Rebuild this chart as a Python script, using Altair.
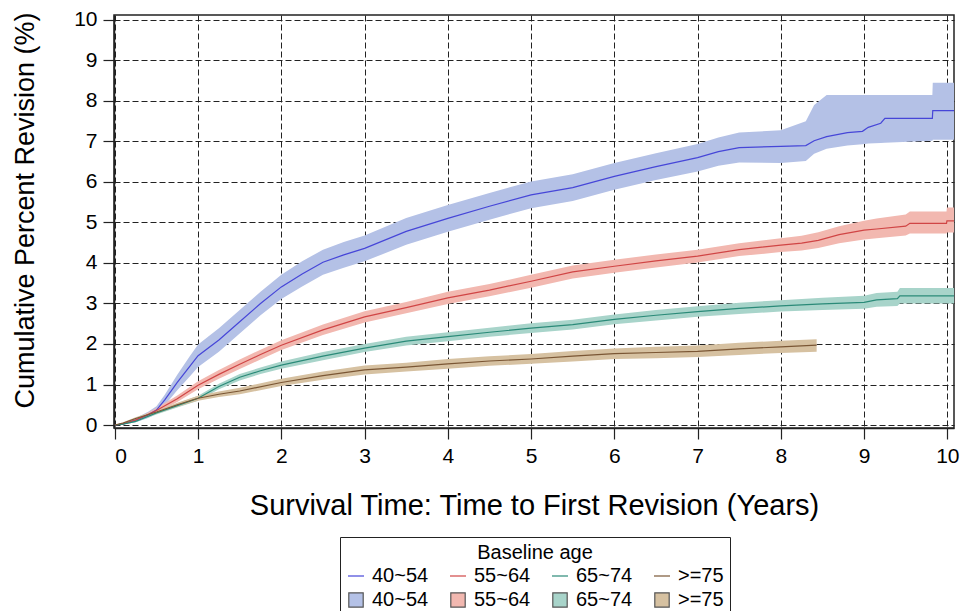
import altair as alt
import pandas as pd

GROUPS = ["40~54", "55~64", "65~74", ">=75"]
LINE_COLORS = ["#4646d8", "#d04545", "#2a8a78", "#7a5634"]
BAND_COLORS = ["#b4c1e6", "#f2b8b0", "#a8d4ca", "#d6c1a1"]

# Cumulative revision (%) with 95% confidence limits, by baseline age group
t_a = [0, 0.1, 0.25, 0.4, 0.5, 0.6, 0.75, 0.9, 1.0, 1.25, 1.5, 1.75, 2.0, 2.25, 2.5, 2.75,
       3.0, 3.5, 4.0, 4.5, 5.0, 5.5, 6.0, 6.5, 7.0, 7.25, 7.5, 8.0, 8.3, 8.4, 8.55, 8.8,
       8.98, 9.05, 9.2, 9.25, 9.82, 9.825, 10.08]
est_a = [0, 0.03, 0.12, 0.25, 0.37, 0.62, 1.05, 1.45, 1.71, 2.10, 2.55, 3.00, 3.41, 3.73, 4.02, 4.20,
         4.36, 4.78, 5.10, 5.40, 5.68, 5.86, 6.14, 6.38, 6.60, 6.75, 6.85, 6.88, 6.90, 7.02, 7.12, 7.22,
         7.25, 7.35, 7.45, 7.57, 7.57, 7.76, 7.76]
lo_a = [0, 0.01, 0.07, 0.17, 0.28, 0.49, 0.86, 1.20, 1.43, 1.81, 2.26, 2.71, 3.11, 3.42, 3.71, 3.88,
        4.04, 4.45, 4.77, 5.07, 5.35, 5.53, 5.81, 6.05, 6.26, 6.40, 6.48, 6.47, 6.52, 6.70, 6.82, 6.90,
        6.93, 6.95, 6.96, 6.97, 7.02, 7.04, 7.04]
hi_a = [0, 0.05, 0.17, 0.33, 0.46, 0.75, 1.24, 1.70, 1.99, 2.39, 2.84, 3.29, 3.71, 4.04, 4.33, 4.52,
        4.68, 5.11, 5.43, 5.73, 6.01, 6.19, 6.47, 6.71, 6.94, 7.10, 7.22, 7.28, 7.50, 7.90, 8.15, 8.15,
        8.15, 8.15, 8.15, 8.15, 8.15, 8.45, 8.45]

t_b = [0, 0.1, 0.25, 0.4, 0.5, 0.75, 1.0, 1.25, 1.5, 1.75, 2.0, 2.5, 3.0, 3.5, 4.0, 4.5, 5.0,
       5.5, 6.0, 6.5, 7.0, 7.5, 8.0, 8.25, 8.45, 8.7, 9.0, 9.15, 9.5, 9.55, 9.99, 9.995, 10.08]
est_b = [0, 0.03, 0.12, 0.26, 0.36, 0.65, 0.98, 1.25, 1.50, 1.74, 1.97, 2.35, 2.67, 2.90, 3.14, 3.33, 3.55,
         3.78, 3.92, 4.05, 4.17, 4.33, 4.44, 4.49, 4.56, 4.70, 4.81, 4.84, 4.91, 4.98, 4.98, 5.04, 5.04]
lo_b = [0, 0.02, 0.09, 0.21, 0.30, 0.57, 0.88, 1.14, 1.38, 1.62, 1.85, 2.22, 2.53, 2.76, 2.99, 3.18, 3.39,
        3.62, 3.76, 3.89, 4.01, 4.17, 4.27, 4.31, 4.37, 4.49, 4.58, 4.61, 4.68, 4.73, 4.73, 4.75, 4.75]
hi_b = [0, 0.04, 0.15, 0.31, 0.42, 0.73, 1.08, 1.36, 1.62, 1.86, 2.09, 2.48, 2.81, 3.04, 3.29, 3.48, 3.71,
        3.94, 4.08, 4.21, 4.33, 4.49, 4.61, 4.67, 4.76, 4.91, 5.04, 5.10, 5.20, 5.27, 5.27, 5.37, 5.37]

t_c = [0, 0.1, 0.25, 0.5, 0.75, 1.0, 1.25, 1.5, 1.75, 2.0, 2.5, 3.0, 3.5, 4.0, 4.5, 5.0, 5.5,
       6.0, 6.5, 7.0, 7.5, 8.0, 8.5, 9.0, 9.15, 9.4, 9.43, 10.08]
est_c = [0, 0.02, 0.09, 0.30, 0.48, 0.66, 0.95, 1.18, 1.34, 1.48, 1.70, 1.90, 2.07, 2.18, 2.29, 2.39, 2.48,
         2.61, 2.71, 2.80, 2.88, 2.94, 2.99, 3.03, 3.09, 3.12, 3.19, 3.19]
lo_c = [0, 0.01, 0.07, 0.26, 0.43, 0.60, 0.88, 1.10, 1.26, 1.39, 1.60, 1.80, 1.96, 2.07, 2.18, 2.27, 2.36,
        2.49, 2.58, 2.67, 2.74, 2.80, 2.84, 2.87, 2.92, 2.94, 3.00, 3.00]
hi_c = [0, 0.03, 0.11, 0.34, 0.53, 0.72, 1.02, 1.26, 1.42, 1.57, 1.80, 2.00, 2.18, 2.29, 2.40, 2.51, 2.60,
        2.73, 2.84, 2.93, 3.02, 3.08, 3.14, 3.19, 3.26, 3.29, 3.38, 3.38]

t_d = [0, 0.1, 0.25, 0.5, 0.75, 1.0, 1.25, 1.5, 2.0, 2.5, 3.0, 3.5, 4.0, 4.5, 5.0, 5.5, 6.0,
       6.5, 7.0, 7.5, 8.0, 8.43]
est_d = [0, 0.05, 0.16, 0.32, 0.50, 0.66, 0.76, 0.84, 1.05, 1.22, 1.36, 1.43, 1.51, 1.58, 1.63, 1.70, 1.76,
         1.79, 1.82, 1.88, 1.93, 1.97]
lo_d = [0, 0.03, 0.13, 0.28, 0.45, 0.60, 0.69, 0.76, 0.96, 1.12, 1.25, 1.32, 1.39, 1.46, 1.51, 1.57, 1.63,
        1.65, 1.68, 1.73, 1.78, 1.81]
hi_d = [0, 0.07, 0.19, 0.36, 0.55, 0.72, 0.83, 0.92, 1.14, 1.32, 1.47, 1.54, 1.63, 1.70, 1.75, 1.83, 1.89,
        1.93, 1.96, 2.03, 2.08, 2.12]

series = [(t_a, est_a, lo_a, hi_a), (t_b, est_b, lo_b, hi_b),
          (t_c, est_c, lo_c, hi_c), (t_d, est_d, lo_d, hi_d)]

frames = []
for g, lc, bc, (t, e, lo, hi) in zip(GROUPS, LINE_COLORS, BAND_COLORS, series):
    frames.append(pd.DataFrame({"group": g, "line_color": lc, "band_color": bc,
                                "t": t, "est": e, "lo": lo, "hi": hi}))
df = pd.concat(frames, ignore_index=True)

FONT = "Liberation Sans"
TICKS = list(range(11))

x_scale = alt.Scale(domain=[-0.01, 10.08], nice=False, zero=False)
y_scale = alt.Scale(domain=[-0.074, 10.123], nice=False, zero=False)

x_axis = alt.Axis(values=TICKS, title="Survival Time: Time to First Revision (Years)",
                  titleX=420, titleY=77, titleBaseline="middle", titleFontSize=29, format="d")
y_axis = alt.Axis(values=TICKS, title="Cumulative Percent Revision (%)",
                  titleX=-89, titleY=195, titleBaseline="middle", titleFontSize=27, format="d")

bands = alt.Chart(df).mark_area(clip=True, opacity=1).encode(
    x=alt.X("t:Q", scale=x_scale, axis=x_axis),
    y=alt.Y("lo:Q", scale=y_scale, axis=y_axis),
    y2="hi:Q",
    fill=alt.Fill("band_color:N", scale=None),
    detail="group:N",
)

lines = alt.Chart(df).mark_line(clip=True, strokeWidth=1.2).encode(
    x="t:Q",
    y="est:Q",
    stroke=alt.Stroke("line_color:N", scale=None),
    detail="group:N",
)

# Legend: one row of line keys, one row of band keys
leg_keys = [f"L|{g}" for g in GROUPS] + [f"B|{g}" for g in GROUPS]
LINE_SYM = "M-1,0H1"
BOX_SYM = "M-0.9,-0.9H0.9V0.9H-0.9Z"
legend = alt.Legend(
    title="Baseline age", orient="none", legendX=226, legendY=522,
    direction="horizontal", columns=4, labelExpr="split(datum.label, '|')[1]",
    symbolSize=256, symbolStrokeWidth=1.2, strokeColor="#222", padding=6,
    titleAnchor="middle", titleFont=FONT, titleFontSize=20, titleFontWeight="normal",
    titleColor="black", titlePadding=3, labelFont=FONT, labelFontSize=20,
    labelColor="black", labelOffset=6, columnPadding=18, rowPadding=4,
)
leg_df = pd.DataFrame({"key": leg_keys})
legend_layer = alt.Chart(leg_df).transform_filter("false").mark_point(filled=True).encode(
    shape=alt.Shape("key:N", scale=alt.Scale(domain=leg_keys, range=[LINE_SYM] * 4 + [BOX_SYM] * 4),
                    legend=legend),
    fill=alt.Fill("key:N", scale=alt.Scale(domain=leg_keys, range=["transparent"] * 4 + BAND_COLORS),
                  legend=legend),
    stroke=alt.Stroke("key:N", scale=alt.Scale(domain=leg_keys, range=LINE_COLORS + ["#555555"] * 4),
                      legend=legend),
)

chart = alt.layer(bands, lines, legend_layer).properties(
    width=840, height=413,
    autosize=alt.AutoSizeParams(type="none"),
    padding={"left": 114, "top": 15, "right": 10, "bottom": 183},
).configure_view(
    stroke="#222", strokeWidth=1.5,
).configure_axis(
    grid=True, gridColor="#222", gridDash=[6, 3], gridWidth=1,
    domainColor="#222", domainWidth=1.5,
    tickColor="#222", tickSize=11, tickWidth=1.2,
    labelFont=FONT, labelFontSize=21, labelColor="black", labelPadding=6,
    titleFont=FONT, titleFontWeight="normal", titleColor="black",
    zindex=1,
)

chart.save("out.html", embed_options={"renderer": "svg", "actions": False})
